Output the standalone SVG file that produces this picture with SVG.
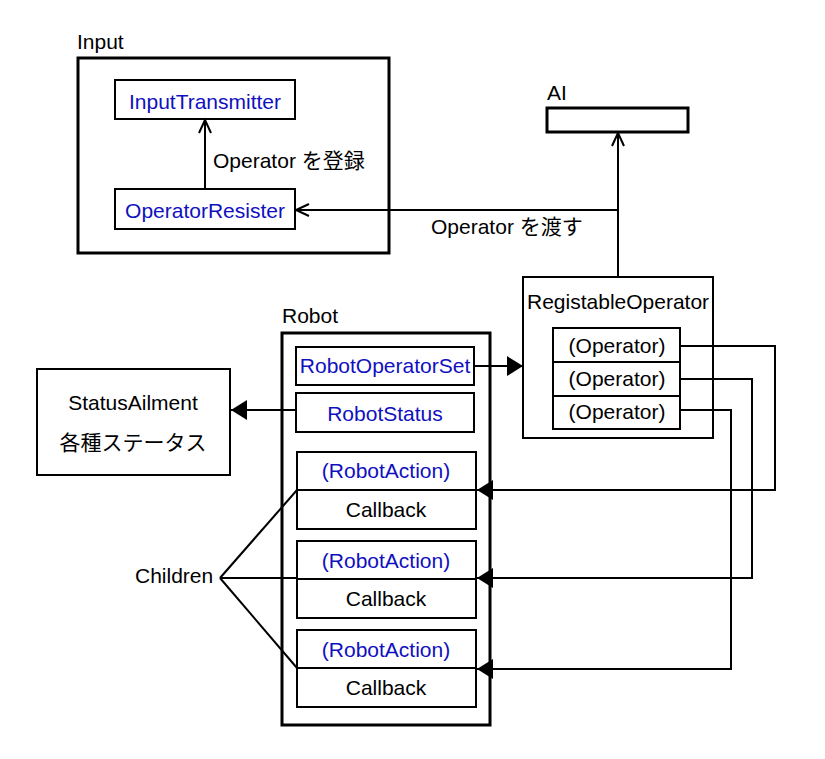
<svg xmlns="http://www.w3.org/2000/svg" width="825" height="759" viewBox="0 0 825 759">
<defs>
<style>
text{font-family:"Liberation Sans","Noto Sans CJK JP",sans-serif;font-size:21px;fill:#000}
.b{fill:#1010c0}
.m{text-anchor:middle}
.box{fill:#fff;stroke:#000;stroke-width:2}
.frame{fill:none;stroke:#000;stroke-width:3}
.ln{fill:none;stroke:#000;stroke-width:2}
</style>
<marker id="open" markerUnits="userSpaceOnUse" markerWidth="20" markerHeight="20" viewBox="-16 -10 20 20" refX="0" refY="0" orient="auto">
<path d="M-13,-6 L0,0 L-13,6" fill="none" stroke="#000" stroke-width="2"/>
</marker>
<marker id="fill" markerUnits="userSpaceOnUse" markerWidth="20" markerHeight="22" viewBox="-17 -11 20 22" refX="0" refY="0" orient="auto">
<path d="M-16,-10 L0,0 L-16,10 Z" fill="#000"/>
</marker>
</defs>
<g id="input">
<text x="77" y="49">Input</text>
<rect class="frame" x="78" y="58" width="311" height="195"/>
</g>
<g id="inputTransmitter">
<rect class="box" x="115" y="80" width="180" height="39"/>
<text class="b m" x="205" y="109">InputTransmitter</text>
</g>
<g id="operatorResister">
<rect class="box" x="115" y="189" width="180" height="40"/>
<text class="b m" x="205" y="218">OperatorResister</text>
</g>
<g id="ai">
<text x="547" y="100">AI</text>
<rect class="box" x="547" y="108" width="141" height="24" style="stroke-width:3"/>
</g>
<g id="registableOperator">
<rect class="box" x="523" y="277" width="190" height="161"/>
<text x="527" y="309">RegistableOperator</text>
<rect class="box" x="553" y="328" width="127" height="34"/>
<text class="m" x="617" y="353">(Operator)</text>
<rect class="box" x="553" y="362" width="127" height="34"/>
<text class="m" x="617" y="386">(Operator)</text>
<rect class="box" x="553" y="396" width="127" height="33"/>
<text class="m" x="617" y="419">(Operator)</text>
</g>
<g id="robot">
<text x="282" y="323">Robot</text>
<rect class="frame" x="282" y="333" width="208" height="392"/>
</g>
<g id="robotOperatorSet">
<rect class="box" x="296" y="347" width="178" height="38"/>
<text class="b m" x="385" y="373">RobotOperatorSet</text>
</g>
<g id="robotStatus">
<rect class="box" x="296" y="393" width="178" height="39"/>
<text class="b m" x="385" y="421">RobotStatus</text>
</g>
<g id="statusAilment">
<rect class="box" x="37" y="369" width="193" height="106"/>
<text class="m" x="133" y="410">StatusAilment</text>
<text class="m" x="133" y="450">各種ステータス</text>
</g>
<g id="action1">
<rect class="box" x="297" y="452" width="179" height="77"/>
<line class="ln" x1="297" y1="490" x2="476" y2="490"/>
<text class="b m" x="386" y="478">(RobotAction)</text>
<text class="m" x="386" y="517">Callback</text>
</g>
<g id="action2">
<rect class="box" x="297" y="541" width="179" height="77"/>
<line class="ln" x1="297" y1="579" x2="476" y2="579"/>
<text class="b m" x="386" y="568">(RobotAction)</text>
<text class="m" x="386" y="606">Callback</text>
</g>
<g id="action3">
<rect class="box" x="297" y="630" width="179" height="77"/>
<line class="ln" x1="297" y1="668" x2="476" y2="668"/>
<text class="b m" x="386" y="657">(RobotAction)</text>
<text class="m" x="386" y="695">Callback</text>
</g>
<g id="children">
<text x="135" y="583">Children</text>
</g>
<g id="connectors">
<line class="ln" x1="205" y1="189" x2="205" y2="120" marker-end="url(#open)"/>
<text x="213" y="168">Operator を登録</text>
<polyline class="ln" points="618,210 296,210" marker-end="url(#open)"/>
<line class="ln" x1="618" y1="277" x2="618" y2="133" marker-end="url(#open)"/>
<text x="431" y="234">Operator を渡す</text>
<line class="ln" x1="474" y1="366" x2="523" y2="366" marker-end="url(#fill)"/>
<line class="ln" x1="296" y1="410" x2="231" y2="410" marker-end="url(#fill)"/>
<polyline class="ln" points="680,346 775,346 775,490 477,490" marker-end="url(#fill)"/>
<polyline class="ln" points="680,379 752,379 752,578 477,578" marker-end="url(#fill)"/>
<polyline class="ln" points="680,410 731,410 731,669 477,669" marker-end="url(#fill)"/>
<line class="ln" x1="220" y1="578" x2="297" y2="490"/>
<line class="ln" x1="220" y1="578" x2="297" y2="578"/>
<line class="ln" x1="220" y1="578" x2="297" y2="668"/>
</g>
</svg>
